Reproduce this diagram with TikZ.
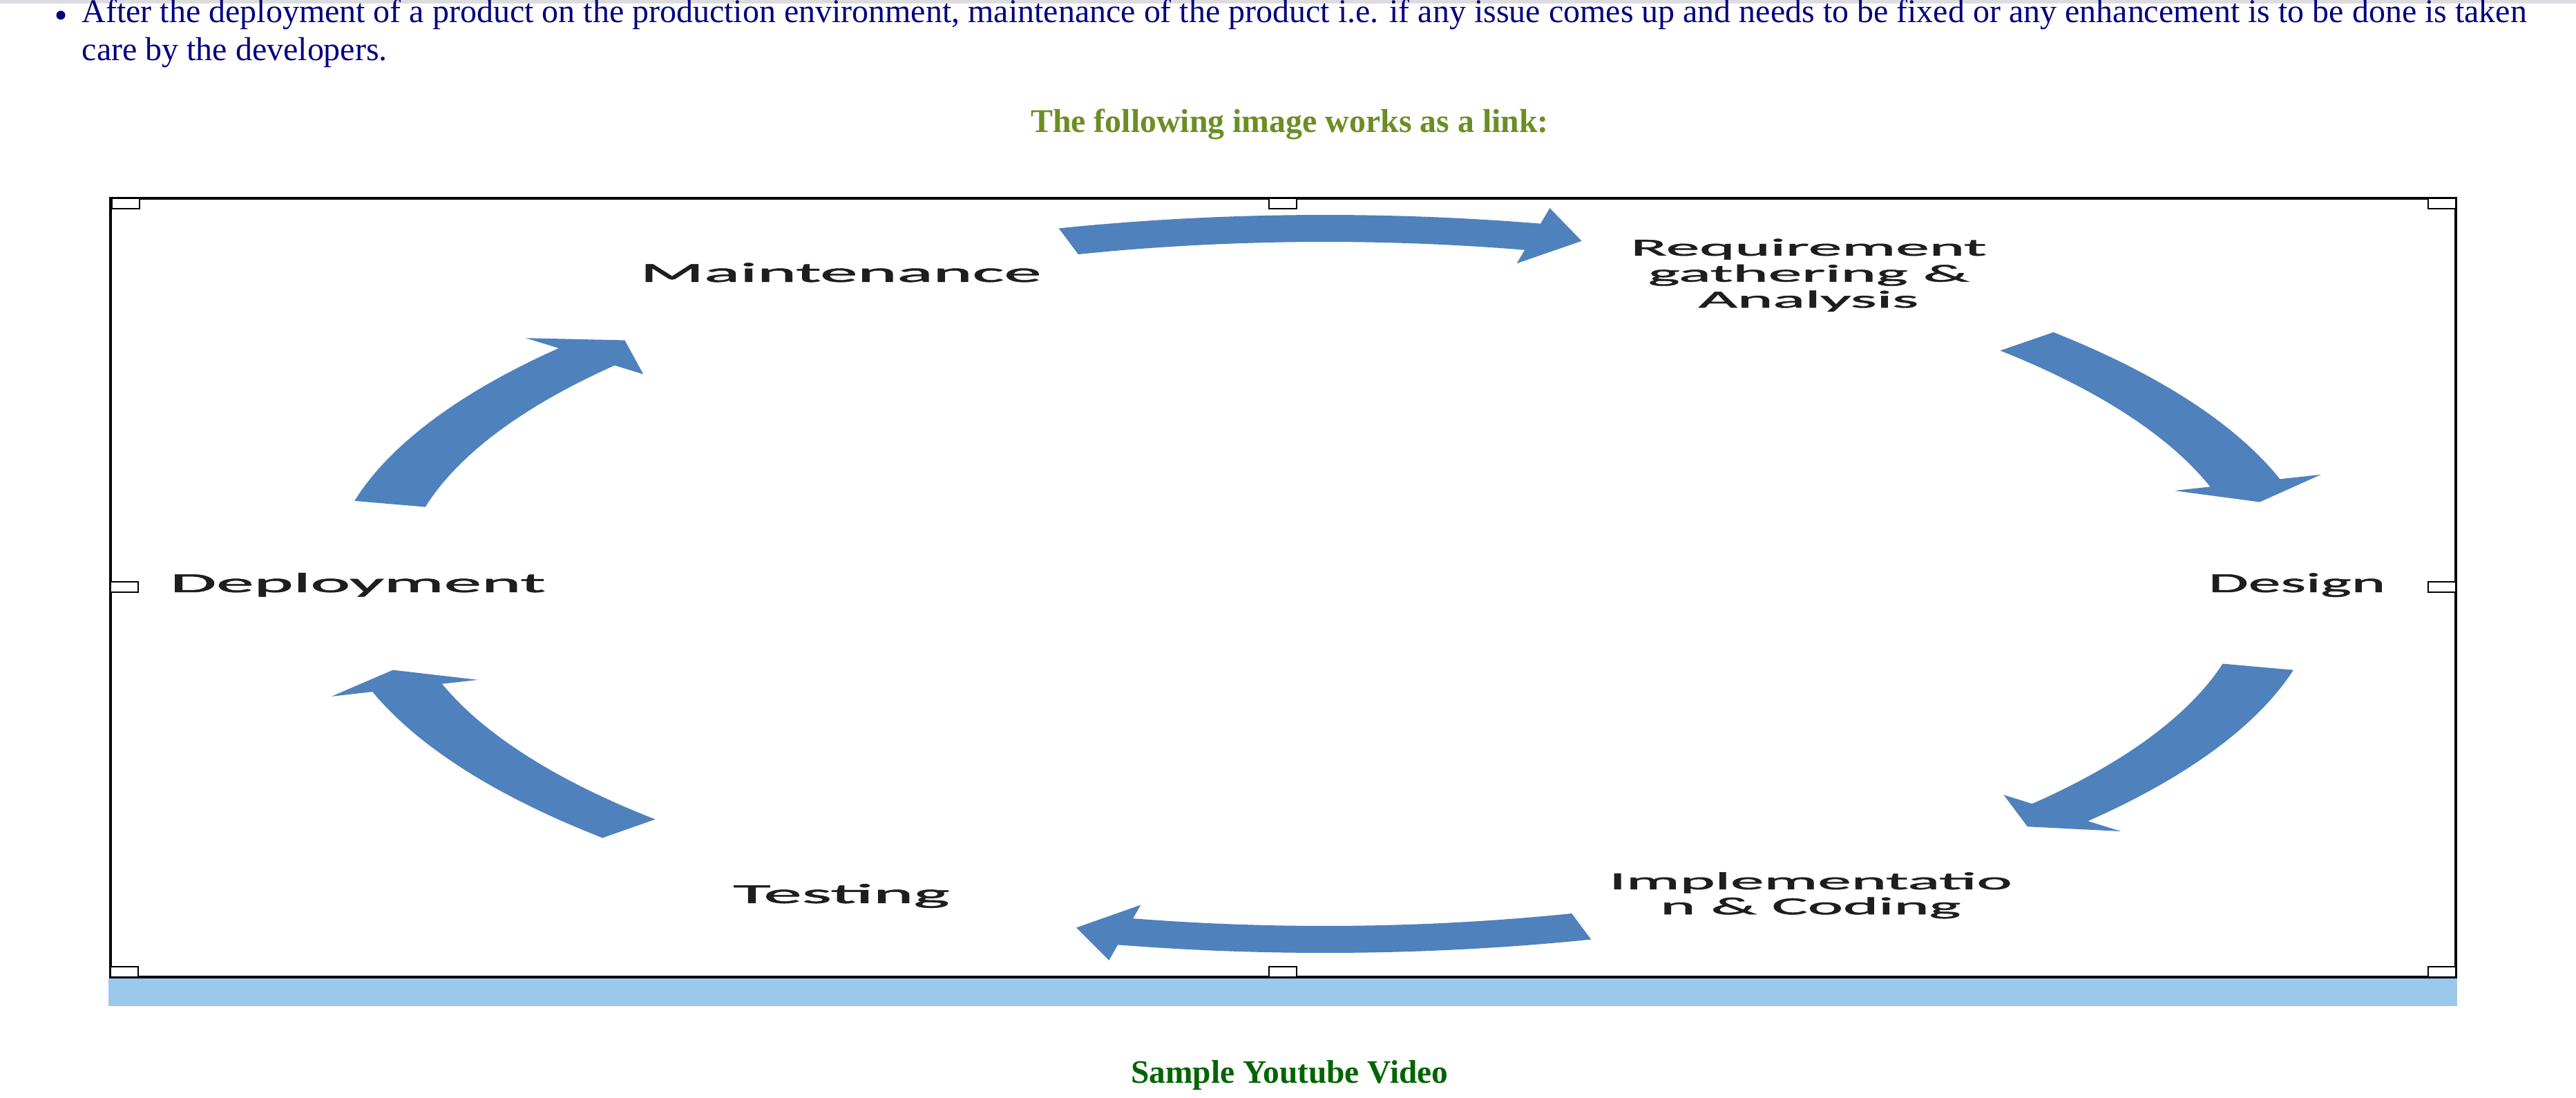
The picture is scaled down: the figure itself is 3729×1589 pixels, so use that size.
\documentclass[tikz,border=0pt]{standalone}
\usepackage{fontspec}
\setmainfont{Liberation Serif}
\newfontfamily\calib[FakeBold=1.2]{Carlito}
\usepackage{graphicx}
\definecolor{navytext}{HTML}{000080}
\definecolor{olivehead}{HTML}{6B8E23}
\definecolor{greenhead}{HTML}{006400}
\definecolor{arrowblue}{HTML}{4F81BD}
\definecolor{barblue}{HTML}{9BC9EC}
\definecolor{topgray}{HTML}{DCDCE0}
\definecolor{labelcol}{HTML}{1E1E1E}
\newlength\tmpw
% font size so that #2 is #1 px wide
\newcommand\fitsize[3]{\settowidth\tmpw{\normalfont\fontsize{10}{12}\selectfont #2}\pgfmathsetmacro#3{2.84528*#1/\tmpw}}
% horizontally stretched label: #1 target px of ref line, #2 size, #3 skip, #4 ref line, #5 content
\newcommand\stretchlbl[5]{{\calib\fontsize{#2}{#3}\selectfont\settowidth\tmpw{#4}\pgfmathsetmacro\sfac{0.284528*#1/\tmpw}\scalebox{\sfac}[1]{#5}}}
\tikzset{
  lbl/.style={inner sep=0pt, text=labelcol, anchor=base},
  handlebox/.style={draw=black, line width=0.8pt, fill=white},
  blockarrow/.style={fill=arrowblue}
}
\begin{document}
\fitsize{3537}{After the deployment of a product on the production environment, maintenance of the product i.e. if any issue comes up and needs to be fixed or any enhancement is to be done is taken}{\topfs}%
\fitsize{749}{\bfseries The following image works as a link:}{\headfs}%
\fitsize{459}{\bfseries Sample Youtube Video}{\footfs}%
\begin{tikzpicture}[x=0.01cm, y=0.01cm, yscale=-1]
\useasboundingbox (0,0) rectangle (3729,1589);
\fill[white] (0,0) rectangle (3729,1589);
\fill[topgray] (0,0) rectangle (3729,5);
% bullet text
\fill[navytext] (88,22) circle (6.5);
\node[inner sep=0pt, anchor=base west, text=navytext, font=\fontsize{\topfs}{\topfs}\selectfont] (line1) at (118,33) {After the deployment of a product on the production environment, maintenance of the product i.e. if any issue comes up and needs to be fixed or any enhancement is to be done is taken};
\node[inner sep=0pt, anchor=base west, text=navytext, font=\fontsize{\topfs}{\topfs}\selectfont] (line2) at (118,88) {care by the developers.};
\node[inner sep=0pt, anchor=base, text=olivehead, font=\bfseries\fontsize{\headfs}{\headfs}\selectfont] (head) at (1867,192) {The following image works as a link:};
\node[inner sep=0pt, anchor=base, text=greenhead, font=\bfseries\fontsize{\footfs}{\footfs}\selectfont] (foot) at (1867,1567) {Sample Youtube Video};
% image frame
\fill[barblue] (157,1415) rectangle (3557,1456);
\draw[line width=1.1pt] (160,287) rectangle (3555,1414);
\draw[handlebox] (162,287) rectangle (202,302);
\draw[handlebox] (1837,287) rectangle (1877,302);
\draw[handlebox] (3515,287) rectangle (3555,302);
\draw[handlebox] (160,842) rectangle (200,857);
\draw[handlebox] (3515,842) rectangle (3555,857);
\draw[handlebox] (160,1399) rectangle (200,1414);
\draw[handlebox] (1837,1399) rectangle (1877,1414);
\draw[handlebox] (3515,1399) rectangle (3555,1414);
% curved block arrows
\begin{scope}[shift={(1918,845)}, yscale=-1, xscale=2.7]
\foreach \a/\b/\t in {105.5/77.5/74.5, 43/16.5/13.3, -13.5/-40/-43, -74.5/-102/-105, -136.5/-163/-166, 167/140.3/136.8}{
  \fill[blockarrow] (\a:495) arc[start angle=\a, end angle=\b, radius=495] -- (\b:475) -- (\t:515) -- (\b:557) -- (\b:534) arc[start angle=\b, end angle=\a, radius=534] -- cycle;
}
\end{scope}
% labels
\node[lbl] (maint) at (1217,408) {\stretchlbl{581}{11.4}{13}{Maintenance}{Maintenance}};
\node[lbl] (req) at (2618,370) {\stretchlbl{515}{10.1}{10.7}{Requirement}{\begin{tabular}[t]{@{}c@{}}Requirement\\gathering \&\\Analysis\end{tabular}}};
\node[lbl] (design) at (3325,857) {\stretchlbl{256}{11.4}{13}{Design}{Design}};
\node[lbl] (impl) at (2621,1287) {\stretchlbl{583}{10.1}{10.3}{Implementatio}{\begin{tabular}[t]{@{}c@{}}Implementatio\\n \& Coding\end{tabular}}};
\node[lbl] (test) at (1218,1307) {\stretchlbl{313}{11.4}{13}{Testing}{Testing}};
\node[lbl] (deploy) at (518,857) {\stretchlbl{543}{11.4}{13}{Deployment}{Deployment}};
\end{tikzpicture}
\end{document}
